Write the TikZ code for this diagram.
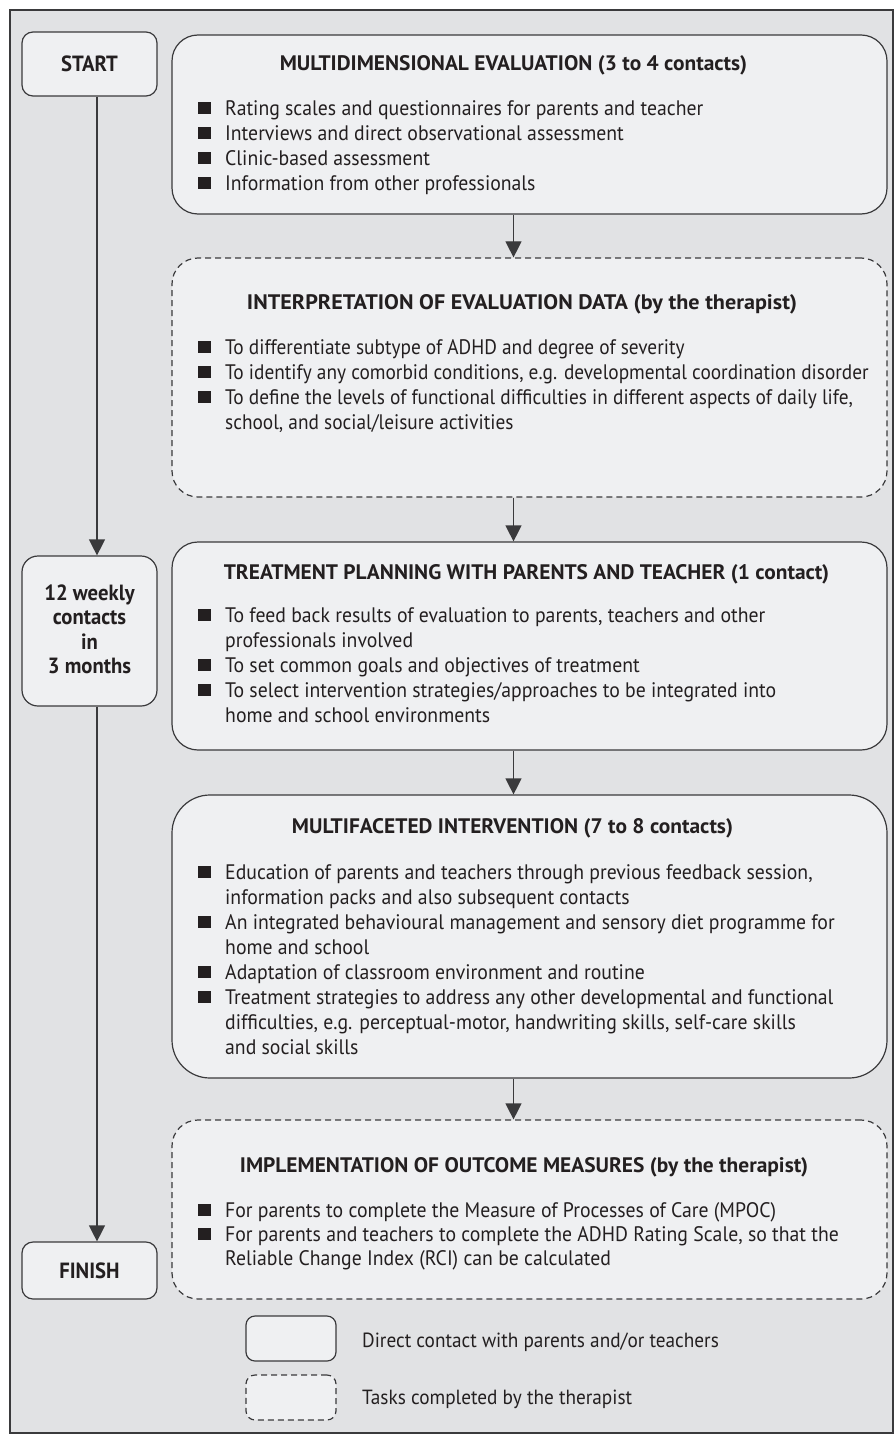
\documentclass[tikz,border=0pt]{standalone}
\usepackage{fontspec}
\setmainfont{PT Sans}[FakeStretch=0.94]
\newfontfamily\ttlfont{PT Sans}[FakeStretch=1.02]
\newfontfamily\condfont{PT Sans}[FakeStretch=0.92]
\usetikzlibrary{arrows.meta}
\definecolor{bggray}{HTML}{E1E2E4}
\definecolor{boxfill}{HTML}{EFF0F2}
\definecolor{edge}{HTML}{3A3A3C}
\definecolor{ink}{HTML}{231F20}
\newcommand{\bul}{\makebox[27pt][l]{\raisebox{1.5pt}{\color{ink}\rule{12.5pt}{12.5pt}}}}
\newcommand{\ind}{\hspace*{27pt}}
\begin{document}
\begin{tikzpicture}[x=1pt, y=-1pt, font=\fontsize{21}{25}\selectfont, text=ink]
        \tikzstyle{bigbox}=[draw=edge, fill=boxfill, line width=1.2pt, rounded corners=26pt, minimum width=715pt, inner sep=0pt]
        \tikzstyle{taskbox}=[bigbox, dash pattern=on 6pt off 4pt]
        \tikzstyle{sidebox}=[draw=edge, fill=boxfill, line width=1.2pt, rounded corners=11pt, minimum width=135pt, inner sep=0pt]
        \tikzstyle{keybox}=[sidebox, rounded corners=9pt, minimum width=90pt, minimum height=45pt]
        \tikzstyle{ttl}=[anchor=base, inner sep=0pt, font=\ttlfont\fontsize{21}{25}\selectfont\bfseries]
        \tikzstyle{list}=[anchor=north west, align=left, inner sep=0pt]
        \tikzstyle{arr}=[draw=edge, line width=1.2pt, -{Triangle[width=16pt,length=16pt]}]
        \useasboundingbox (0,0) rectangle (894,1439);
        \draw[draw=edge, fill=bggray, line width=1.4pt] (10,10) rectangle (893,1433);
        \coordinate (laxis) at (97,0);
        \coordinate (raxis) at (513.5,0);
        % Left column
        \node[sidebox, minimum height=64pt] (start) at (89.5,64) {};
        \node[anchor=base, font=\fontsize{22}{25}\selectfont\bfseries] at (89.5,72) {START};
        \node[sidebox, rounded corners=16pt, minimum height=150pt] (weekly) at (89.5,631) {};
        \node[anchor=north, align=center, inner sep=0pt, font=\fontsize{22}{24.5}\selectfont\bfseries] at (89.5,582) {\rule{0pt}{18pt}12 weekly\\contacts\\in\\3 months};
        \node[sidebox, minimum height=57pt] (finish) at (89.5,1270.5) {};
        \node[anchor=base, font=\fontsize{22}{25}\selectfont\bfseries] at (89.5,1278) {FINISH};
        \draw[arr] (start.south -| laxis) -- (weekly.north -| laxis);
        \draw[arr] (weekly.south -| laxis) -- (finish.north -| laxis);
        % Box 1
        \node[bigbox, minimum height=179pt] (eval) at (529.5,124.5) {};
        \node[ttl] at (513.5,70.5) {MULTIDIMENSIONAL EVALUATION (3 to 4 contacts)};
        \node[list] at (198,97.5) {\rule{0pt}{18pt}\bul Rating scales and questionnaires for parents and teacher\\
                \bul Interviews and direct observational assessment\\
                \bul Clinic-based assessment\\
                \bul Information from other professionals};
        % Box 2
        \node[taskbox, minimum height=239pt] (interp) at (529.5,377.5) {};
        \node[ttl, font=\condfont\fontsize{21}{25}\selectfont\bfseries] at (522,309.5) {\resizebox{550pt}{\height}{INTERPRETATION OF EVALUATION DATA (by the therapist)}};
        \node[list, font=\condfont\fontsize{21}{25}\selectfont] at (198,336.5) {\rule{0pt}{18pt}\bul To differentiate subtype of ADHD and degree of severity\\
                \bul To identify any comorbid conditions, e.g. developmental coordination disorder\\
                \bul To define the levels of functional difficulties in different aspects of daily life,\\
                \ind school, and social/leisure activities};
        % Box 3
        \node[bigbox, minimum height=208pt] (plan) at (529.5,646) {};
        \node[ttl] at (526.5,579.5) {TREATMENT PLANNING WITH PARENTS AND TEACHER (1 contact)};
        \node[list] at (198,604.5) {\rule{0pt}{18pt}\bul To feed back results of evaluation to parents, teachers and other\\
                \ind professionals involved\\
                \bul To set common goals and objectives of treatment\\
                \bul To select intervention strategies/approaches to be integrated into\\
                \ind home and school environments};
        % Box 4
        \node[bigbox, rounded corners=38pt, minimum height=283pt] (interv) at (529.5,936.5) {};
        \node[ttl] at (512.5,833.5) {MULTIFACETED INTERVENTION (7 to 8 contacts)};
        \node[list] at (198,861.5) {\rule{0pt}{18pt}\bul Education of parents and teachers through previous feedback session,\\
                \ind information packs and also subsequent contacts\\
                \bul An integrated behavioural management and sensory diet programme for\\
                \ind home and school\\
                \bul Adaptation of classroom environment and routine\\
                \bul Treatment strategies to address any other developmental and functional\\
                \ind difficulties, e.g. perceptual-motor, handwriting skills, self-care skills\\
                \ind and social skills};
        % Box 5
        \node[taskbox, minimum height=179pt] (outcome) at (529.5,1209.5) {};
        \node[ttl] at (524,1172.5) {IMPLEMENTATION OF OUTCOME MEASURES (by the therapist)};
        \node[list, font=\fontsize{21}{24}\selectfont] at (198,1199.5) {\rule{0pt}{18pt}\bul For parents to complete the Measure of Processes of Care (MPOC)\\
                \bul For parents and teachers to complete the ADHD Rating Scale, so that the\\
                \ind Reliable Change Index (RCI) can be calculated};
        % Arrows
        \draw[arr] (eval.south -| raxis) -- (interp.north -| raxis);
        \draw[arr] (interp.south -| raxis) -- (plan.north -| raxis);
        \draw[arr] (plan.south -| raxis) -- (interv.north -| raxis);
        \draw[arr] (interv.south -| raxis) -- (outcome.north -| raxis);
        % Key
        \node[keybox] (keydirect) at (291,1338.5) {};
        \node[keybox, dash pattern=on 6pt off 4pt] (keytask) at (291,1397.5) {};
        \node[anchor=base west, inner sep=0pt, font=\fontsize{20.5}{25}\selectfont] at (362,1347) {Direct contact with parents and/or teachers};
        \node[anchor=base west, inner sep=0pt, font=\fontsize{20.5}{25}\selectfont] at (362,1404.5) {Tasks completed by the therapist};
\end{tikzpicture}
\end{document}
